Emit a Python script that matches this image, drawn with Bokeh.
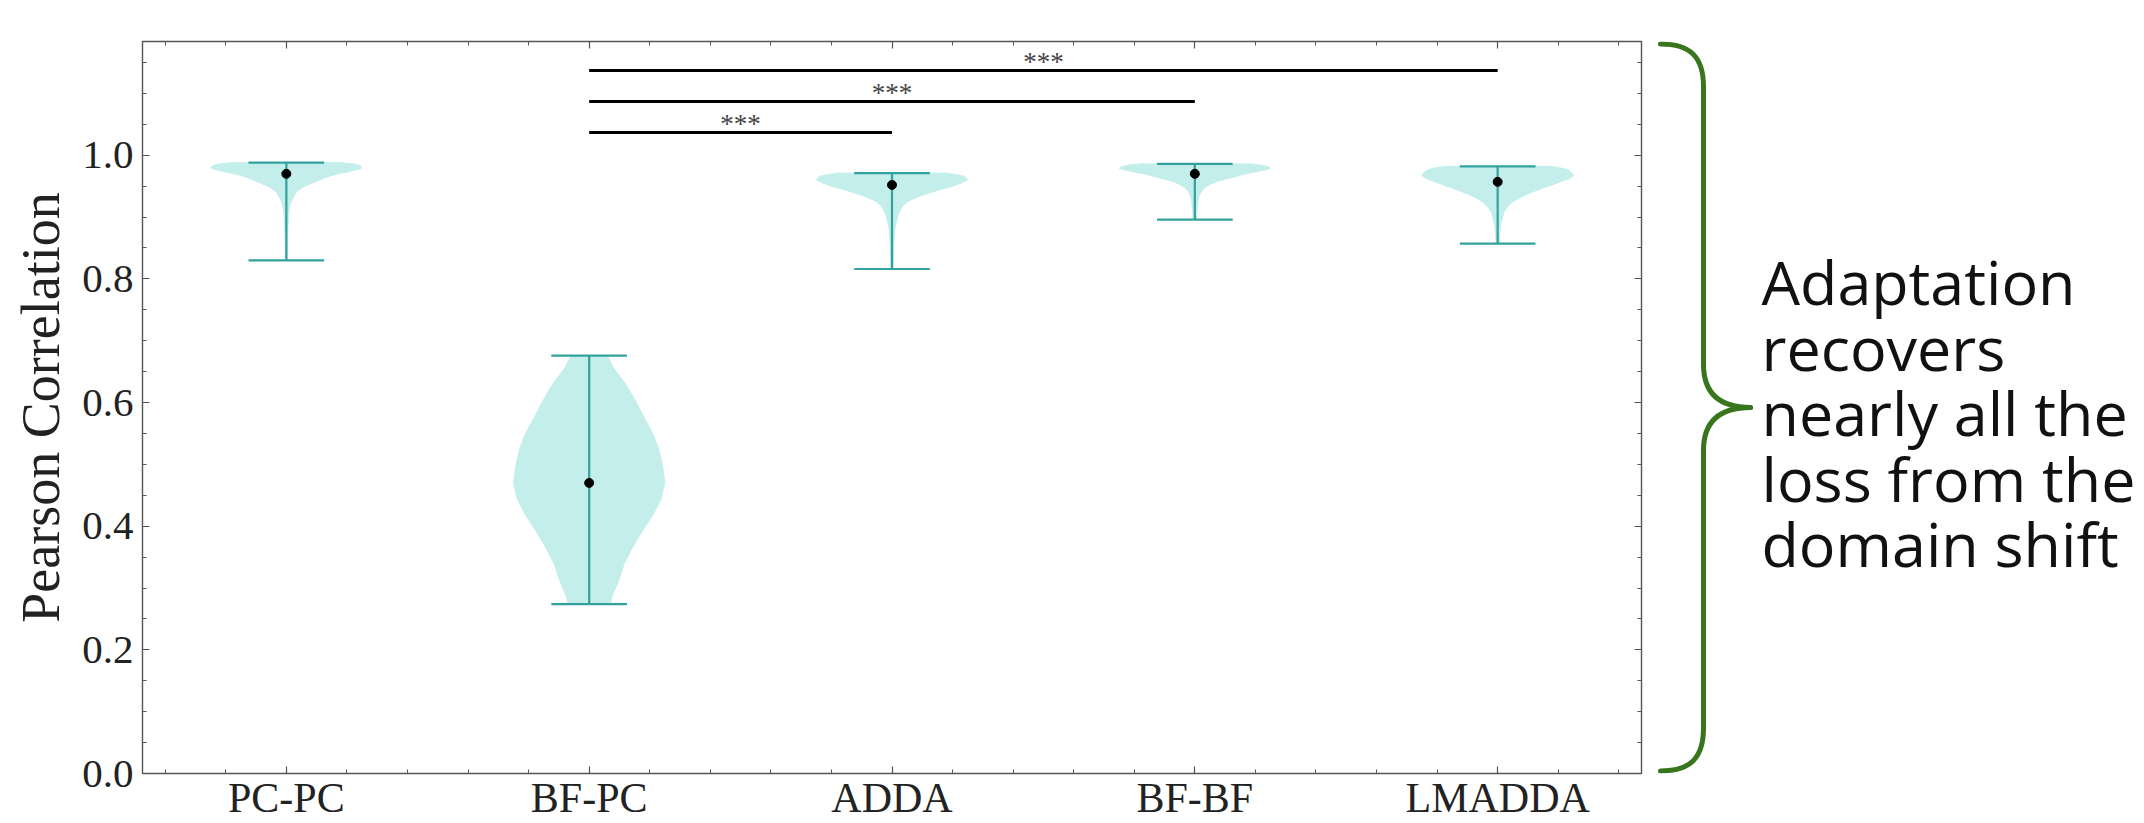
from bokeh.plotting import figure
from bokeh.models import Range1d, FixedTicker, LinearAxis, CustomLabelingPolicy
from bokeh.layouts import row
from bokeh.embed import file_html
from bokeh.resources import INLINE
from bokeh.core.properties import value

# ---------------- data ----------------
categories = ["PC-PC", "BF-PC", "ADDA", "BF-BF", "LMADDA"]
positions = [1, 2, 3, 4, 5]
medians = [0.970, 0.470, 0.952, 0.970, 0.957]
mins = [0.830, 0.274, 0.816, 0.896, 0.857]
maxs = [0.988, 0.676, 0.971, 0.986, 0.982]

# violin outlines: value levels and relative half-width (1 = widest)
pcpc_y = [0.988, 0.986, 0.9835, 0.980, 0.977, 0.9737, 0.9705, 0.9674, 0.964, 0.9605, 0.955, 0.947, 0.940, 0.9315, 0.921, 0.905, 0.88, 0.830]
pcpc_w = [0.72, 0.88, 0.97, 1.0, 0.95, 0.83, 0.70, 0.60, 0.52, 0.45, 0.34, 0.20, 0.13, 0.09, 0.05, 0.03, 0.02, 0.01]
bfpc_y = [0.676, 0.656, 0.630, 0.603, 0.577, 0.550, 0.524, 0.497, 0.471, 0.444, 0.418, 0.392, 0.365, 0.339, 0.312, 0.286, 0.274]
bfpc_w = [0.24, 0.32, 0.48, 0.61, 0.72, 0.84, 0.92, 0.97, 1.0, 0.95, 0.84, 0.70, 0.57, 0.46, 0.39, 0.30, 0.28]
adda_y = [0.971, 0.968, 0.9657, 0.960, 0.956, 0.952, 0.948, 0.944, 0.940, 0.936, 0.931, 0.926, 0.919, 0.912, 0.899, 0.883, 0.860, 0.816]
adda_w = [0.70, 0.88, 0.96, 1.0, 0.93, 0.85, 0.74, 0.62, 0.52, 0.42, 0.31, 0.22, 0.15, 0.11, 0.07, 0.04, 0.025, 0.015]
bfbf_y = [0.986, 0.984, 0.982, 0.979, 0.976, 0.973, 0.970, 0.966, 0.962, 0.958, 0.953, 0.947, 0.940, 0.932, 0.915, 0.896]
bfbf_w = [0.72, 0.88, 0.96, 1.0, 0.92, 0.80, 0.67, 0.55, 0.42, 0.30, 0.20, 0.12, 0.08, 0.05, 0.03, 0.02]
lmadda_y = [0.982, 0.979, 0.976, 0.9715, 0.967, 0.9625, 0.958, 0.9525, 0.947, 0.942, 0.9365, 0.930, 0.923, 0.915, 0.9075, 0.889, 0.870, 0.857]
lmadda_w = [0.70, 0.85, 0.93, 0.98, 1.0, 0.95, 0.85, 0.73, 0.60, 0.49, 0.38, 0.27, 0.18, 0.12, 0.08, 0.04, 0.025, 0.02]
violin_profiles = [(pcpc_y, pcpc_w), (bfpc_y, bfpc_w), (adda_y, adda_w), (bfbf_y, bfbf_w), (lmadda_y, lmadda_w)]

# significance brackets
sig_start = [2, 2, 2]
sig_end = [3, 4, 5]
sig_height = [1.037, 1.087, 1.137]
sig_text = ["***", "***", "***"]

y_ticks = [0.0, 0.2, 0.4, 0.6, 0.8, 1.0]
y_tick_labels = ["0.0", "0.2", "0.4", "0.6", "0.8", "1.0"]
annotation_lines = ["Adaptation", "recovers", "nearly all the", "loss from the", "domain shift"]

# ---------------- styles / layout ----------------
FILL = "#c3eeeb"
EDGE = "#33a19e"
AXC = "#555555"
SERIF = "Liberation Serif"
HALF_W = 0.25
CAP_W = 0.125

H = 823
B_TOP, B_BOTTOM, B_LEFT, B_RIGHT = 41, 48, 142, 10
W1 = B_LEFT + 1499 + B_RIGHT
W2 = 485

p = figure(width=W1, height=H,
           x_range=Range1d(0.525, 5.475), y_range=Range1d(0, 1.184),
           output_backend="svg", toolbar_location=None,
           min_border_left=B_LEFT, min_border_top=B_TOP, min_border_bottom=B_BOTTOM, min_border_right=B_RIGHT,
           background_fill_color="white", border_fill_color="white")
p.grid.visible = False
p.outline_line_color = AXC
p.outline_line_width = 1.4

x_minor = [round(0.6 + 0.2 * i, 1) for i in range(25)]
y_minor = [round(0.05 * i, 2) for i in range(24)]
xt = FixedTicker(ticks=positions, minor_ticks=x_minor)
yt = FixedTicker(ticks=y_ticks, minor_ticks=y_minor)

def style_axis(ax):
    ax.axis_line_color = None
    ax.major_tick_line_color = AXC
    ax.minor_tick_line_color = AXC
    ax.major_tick_line_width = 1.2
    ax.minor_tick_line_width = 1.0
    ax.major_tick_in = 7
    ax.major_tick_out = 0
    ax.minor_tick_in = 4
    ax.minor_tick_out = 0

def hide_labels(ax, ticks):
    ax.major_label_overrides = {t: "" for t in ticks}
    ax.major_label_text_font_size = "1px"
    ax.major_label_standoff = 0
    ax.major_label_policy = CustomLabelingPolicy(code="for (const i of indices) { indices.unset(i) }")

xa = p.xaxis[0]
xa.ticker = xt
style_axis(xa)
xa.major_label_overrides = {pos: cat for pos, cat in zip(positions, categories)}
xa.major_label_text_font = SERIF
xa.major_label_text_font_size = "42px"
xa.major_label_text_color = "#222222"
xa.major_label_standoff = 1

ya = p.yaxis[0]
ya.ticker = yt
style_axis(ya)
ya.major_label_overrides = {t: l for t, l in zip(y_ticks, y_tick_labels)}
ya.major_label_text_font = SERIF
ya.major_label_text_font_size = "41px"
ya.major_label_text_color = "#222222"
ya.major_label_standoff = 9
ya.axis_label = "Pearson Correlation"
ya.axis_label_text_font = SERIF
ya.axis_label_text_font_style = "normal"
ya.axis_label_text_font_size = "54px"
ya.axis_label_text_color = "#222222"
ya.axis_label_standoff = 8

top_ax = LinearAxis(ticker=xt)
style_axis(top_ax)
hide_labels(top_ax, positions)
p.add_layout(top_ax, "above")
right_ax = LinearAxis(ticker=yt)
style_axis(right_ax)
hide_labels(right_ax, y_ticks)
p.add_layout(right_ax, "right")

# violins
for pos, (vy, vw) in zip(positions, violin_profiles):
    xs = [pos + w * HALF_W for w in vw] + [pos - w * HALF_W for w in reversed(vw)]
    ys = list(vy) + list(reversed(vy))
    p.patch(xs, ys, fill_color=FILL, fill_alpha=1.0, line_color=FILL, line_width=1)

p.segment(x0=positions, y0=mins, x1=positions, y1=maxs, line_color=EDGE, line_width=2.2)
p.segment(x0=[x - CAP_W for x in positions], y0=mins, x1=[x + CAP_W for x in positions], y1=mins,
          line_color=EDGE, line_width=2.2)
p.segment(x0=[x - CAP_W for x in positions], y0=maxs, x1=[x + CAP_W for x in positions], y1=maxs,
          line_color=EDGE, line_width=2.2)
p.scatter(positions, medians, size=9, color="black")

# significance brackets
p.segment(x0=sig_start, y0=sig_height, x1=sig_end, y1=sig_height, line_color="black", line_width=3)
p.text(x=[(a + b) / 2 for a, b in zip(sig_start, sig_end)], y=[h + 0.0135 for h in sig_height],
       text=sig_text, text_align="center", text_baseline="alphabetic",
       text_font=value(SERIF), text_font_size="27px", text_color="#444444")

# ---------------- brace + annotation (page-pixel coordinates) ----------------
frame_top = B_TOP
frame_bottom = H - B_BOTTOM
p2 = figure(width=W2, height=H, x_range=Range1d(W1, W1 + W2), y_range=Range1d(frame_bottom, frame_top),
            x_axis_type=None, y_axis_type=None,
            output_backend="svg", toolbar_location=None,
            min_border_left=0, min_border_right=0, min_border_top=B_TOP, min_border_bottom=B_BOTTOM,
            background_fill_color="white", border_fill_color="white")
p2.grid.visible = False
p2.outline_line_color = None

GREEN = "#38761d"
bx, tipx, endx = 1703, 1750, 1660
yt0, yb0 = frame_top + 2.5, frame_bottom - 2.5
ym = (yt0 + yb0) / 2
r = 43
p2.bezier(x0=[endx, bx, tipx, bx], y0=[yt0, ym - r, ym, ym + r + (yb0 - yt0) / 2 - 2 * r],
          x1=[bx, tipx, bx, endx], y1=[yt0 + r, ym, ym + r, yb0],
          cx0=[endx + 30, bx, tipx - 30, bx], cy0=[yt0, ym - 13, ym, yb0 - 13],
          cx1=[bx, tipx - 30, bx, endx + 30], cy1=[yt0 + 13, ym, ym + 13, yb0],
          line_color=GREEN, line_width=5, line_cap="round")
p2.segment(x0=[bx, bx], y0=[yt0 + r, ym + r], x1=[bx, bx], y1=[ym - r, yb0 - r],
           line_color=GREEN, line_width=5, line_cap="round")

line_y0 = 282
line_step = 65.6
p2.text(x=[1761] * len(annotation_lines), y=[line_y0 + i * line_step for i in range(len(annotation_lines))],
        text=annotation_lines, text_font=value("Open Sans"), text_font_size="61px",
        text_baseline="alphabetic", text_align="left", text_color="#111111")

layout = row(p, p2)
open("out.html", "w").write(file_html(layout, INLINE))
